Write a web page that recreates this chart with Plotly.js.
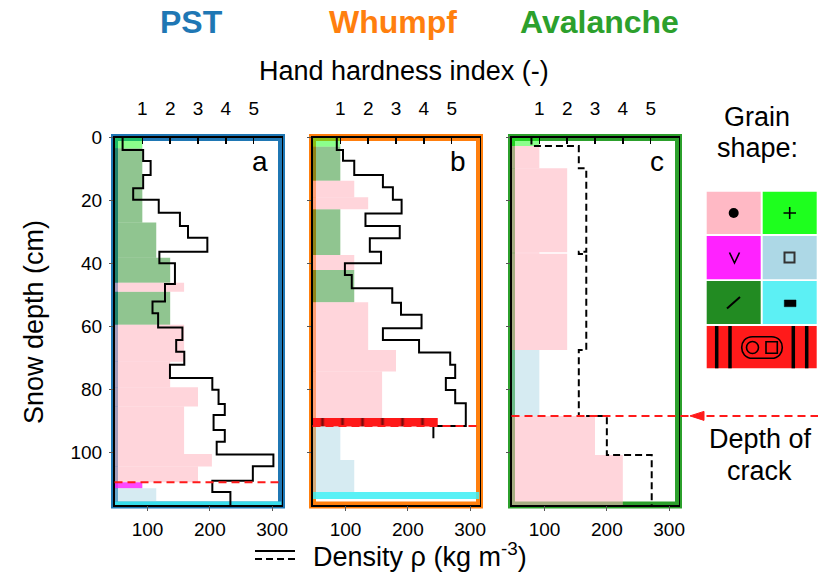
<!DOCTYPE html>
<html><head><meta charset="utf-8">
<script src="https://cdn.plot.ly/plotly-3.0.1.min.js"></script>
<style>html,body{margin:0;padding:0;background:#fff}#chart{width:818px;height:579px}</style>
</head><body><div id="chart"></div>
<script>
// ---------- DATA ----------
const panelNames = ['PST', 'Whumpf', 'Avalanche'];
const panelLetters = ['a', 'b', 'c'];
const hardTicks = [1, 2, 3, 4, 5];
const densTicks = [100, 200, 300];
const depthTicks = [0, 20, 40, 60, 80, 100];

// grain layers: top depth, bottom depth (cm), hand hardness index, grain shape
const aTop   = [0, 3.4, 27.0, 38.2, 46.1, 49.0, 59.5, 71.2, 79.3, 85.4, 100.5, 104.5, 109.5, 111.4, 115.6];
const aBot   = [3.4, 27.0, 38.2, 46.1, 49.0, 59.5, 71.2, 79.3, 85.4, 100.5, 104.5, 109.5, 111.4, 115.6, 116.7];
const aHard  = [1, 1, 1.5, 2, 2.5, 2, 2.5, 2, 3, 2.5, 3.5, 3, 1, 1.5, 6];
const aGrain = ['PP','DF','DF','DF','RG','DF','RG','RG','RG','RG','RG','RG','DH','FC','IF'];

const bTop   = [0, 2.9, 13.7, 19.0, 22.8, 37.3, 42.1, 52.3, 67.5, 74.3, 89.1, 91.8, 102.4, 112.6];
const bBot   = [2.9, 13.7, 19.0, 22.8, 37.3, 42.1, 52.3, 67.5, 74.3, 89.1, 91.8, 102.4, 112.6, 114.8];
const bHard  = [1, 1, 1.5, 2, 1, 1.5, 1.5, 2, 3, 2.5, 4.5, 1, 1.5, 6];
const bGrain = ['PP','DF','RG','RG','DF','RG','DF','RG','RG','RG','MFcr','FC','FC','IF'];

const cTop   = [0, 2.7, 9.8, 36.4, 36.9, 67.5, 88.4, 100.8];
const cBot   = [2.7, 9.8, 36.4, 36.9, 67.5, 88.4, 100.8, 116.7];
const cHard  = [1, 1, 2, 1, 2, 1, 3, 4];
const cGrain = ['PP','RG','RG','RG','RG','FC','RG','RG'];

// density profiles: layer boundaries (cm) and density (kg m-3)
const aDz  = [0,4.0,7.5,11.9,16.1,19.8,23.9,28.1,31.8,36.3,39.9,46.5,52.1,55.8,60.3,64.3,68.0,72.2,76.4,80.1,84.6,88.1,92.9,96.6,100.7,104.4,109.0,112.6,116.7];
const aRho = [60,93,105,93,77,118,152,165,196,119,144,128,108,117,156,146,159,136,204,214,224,206,224,211,302,269,204,233];
const bDz  = [0,4.0,7.4,11.9,15.8,19.8,24.1,28.1,32.0,36.3,39.9,43.7,47.9,52.5,56.3,60.6,64.3,68.3,72.2,76.4,80.2,84.4,91.6,95.5];
const bRho = [86,96,114,160,176,190,132,187,139,157,99,110,175,189,222,160,218,268,276,261,276,293,241];
const cDz  = [0,2.7,9.8,36.3,37.0,67.5,88.4,100.8,116.7];
const cRho = [79,155,167,155,167,155,200,272];

// depth of crack (cm)
const crackDepth = [109.5, 91.6, 88.4];

// grain shape legend
const legendGrains = ['RG','PP','DH','FC','DF','IF'];

// ---------- STYLE ----------
const W = 818, H = 579;
const FONT = 'Liberation Sans, Arial, sans-serif';
const panelColors = ['#1f77b4', '#ff7f0e', '#2ca02c'];
const grainFill = {
  PP: 'rgba(26,255,26,0.5)', RG: 'rgba(255,182,193,0.58)', DH: 'rgba(255,40,255,0.85)',
  FC: 'rgba(173,216,230,0.5)', DF: 'rgba(34,139,34,0.5)', IF: 'rgba(60,238,245,0.85)', MFcr: 'rgba(255,25,25,1)'
};
const legendFill = {PP:'#1eff1e', RG:'#ffb9c5', DH:'#ff22ff', FC:'#add8e6', DF:'#228b22', IF:'#5cf0f4', MFcr:'#ff1a1a'};
const panelPx = [[114.5, 281.5], [312.5, 479.5], [511.5, 678.5]];
const yTopPx = 137.5, yBotPx = 505;
const depthRange = [116.7, 0];
const hardRange = [0, 6];
const densRange = [47, 315];
const px = x => x / W;
const py = y => 1 - y / H;

const layers = [
  [aTop, aBot, aHard, aGrain],
  [bTop, bBot, bHard, bGrain],
  [cTop, cBot, cHard, cGrain]
];
const profiles = [[aDz, aRho], [bDz, bRho], [cDz, cRho]];

const traces = [];
const layout = {
  width: W, height: H, margin: {l: 0, r: 0, t: 0, b: 0},
  paper_bgcolor: '#fff', plot_bgcolor: 'rgba(0,0,0,0)',
  showlegend: false, barmode: 'overlay', hovermode: false,
  font: {family: FONT, color: '#000', size: 19},
  shapes: [], annotations: []
};

for (let p = 0; p < 3; p++) {
  const hx = p === 0 ? 'x' : 'x' + (p + 1);
  const dx = 'x' + (p + 4);
  const yy = p === 0 ? 'y' : 'y' + (p + 1);
  const [top, bot, hard, grain] = layers[p];
  // bars per grain type
  const types = [...new Set(grain)];
  types.forEach(g => {
    const idx = grain.map((v, i) => v === g ? i : -1).filter(i => i >= 0);
    const tr = {
      type: 'bar', orientation: 'h', xaxis: hx, yaxis: yy, hoverinfo: 'skip',
      x: idx.map(i => hard[i]),
      y: idx.map(i => (top[i] + bot[i]) / 2),
      width: idx.map(i => bot[i] - top[i]),
      marker: {color: grainFill[g], line: {width: 0}}
    };
    if (g === 'MFcr') {
      tr.marker.pattern = {shape: '|', fgcolor: '#000', bgcolor: grainFill[g], size: 20, solidity: 0.14, fillmode: 'overlay'};
    }
    traces.push(tr);
  });
  // density step line
  const [dz, rho] = profiles[p];
  const lx = [], ly = [];
  for (let i = 0; i < rho.length; i++) { lx.push(rho[i], rho[i]); ly.push(dz[i], dz[i + 1]); }
  traces.push({
    type: 'scatter', mode: 'lines', xaxis: dx, yaxis: yy, hoverinfo: 'skip',
    x: lx, y: ly,
    line: {color: '#000', width: 2, dash: p === 2 ? '7px,4px' : 'solid'}
  });

  const dom = [px(panelPx[p][0]), px(panelPx[p][1])];
  const ydom = [py(yBotPx), py(yTopPx)];
  layout[p === 0 ? 'xaxis' : 'xaxis' + (p + 1)] = {
    domain: dom, range: hardRange, side: 'top', anchor: yy,
    tickmode: 'array', tickvals: hardTicks, ticktext: hardTicks.map(String),
    ticks: 'inside', ticklen: 6, tickwidth: 1.5, tickcolor: '#000',
    showline: true, mirror: true, linecolor: '#000', linewidth: 1.5,
    showgrid: false, zeroline: false, fixedrange: true,
    tickfont: {size: 19}, ticklabelstandoff: 13
  };
  layout['xaxis' + (p + 4)] = {
    domain: dom, range: densRange, side: 'bottom', anchor: yy, overlaying: hx,
    tickmode: 'array', tickvals: densTicks, ticktext: densTicks.map(String),
    ticks: 'outside', ticklen: 5, tickwidth: 1.2, tickcolor: '#555',
    showline: false, showgrid: false, zeroline: false, fixedrange: true,
    tickfont: {size: 19}, ticklabelstandoff: 2
  };
  layout[p === 0 ? 'yaxis' : 'yaxis' + (p + 1)] = {
    domain: ydom, range: depthRange, anchor: hx,
    tickmode: 'array', tickvals: depthTicks, ticktext: depthTicks.map(String),
    ticks: 'outside', ticklen: 4, tickwidth: 1.2, tickcolor: '#555',
    showticklabels: p === 0,
    showline: true, mirror: true, linecolor: '#000', linewidth: 1.5,
    showgrid: false, zeroline: false, fixedrange: true,
    tickfont: {size: 19}, ticklabelstandoff: 3
  };

  // coloured frame
  layout.shapes.push({type: 'rect', xref: 'paper', yref: 'paper', layer: 'below',
    x0: dom[0], x1: dom[1], y0: ydom[0], y1: ydom[1],
    line: {color: panelColors[p], width: 7}, fillcolor: 'rgba(0,0,0,0)'});

  // crack line
  if (p < 2) {
    layout.shapes.push({type: 'line', xref: hx + ' domain', yref: yy, x0: 0, x1: 1,
      y0: crackDepth[p], y1: crackDepth[p], line: {color: '#ff1a1a', width: 2, dash: '8px,5px'}});
  } else {
    layout.shapes.push({type: 'line', xref: 'paper', yref: yy, x0: dom[0], x1: 1,
      y0: crackDepth[p], y1: crackDepth[p], line: {color: '#ff1a1a', width: 2, dash: '8px,5px'}});
    // arrow head pointing left
    const d = crackDepth[p], dd = 4.5 / 3.15;
    layout.shapes.push({type: 'path', xref: 'paper', yref: yy,
      path: 'M' + px(690).toFixed(5) + ',' + d + ' L' + px(704).toFixed(5) + ',' + (d - dd) +
            ' L' + px(704).toFixed(5) + ',' + (d + dd) + ' Z',
      fillcolor: '#ff1a1a', line: {color: '#ff1a1a', width: 1}});
  }

  // panel letter
  layout.annotations.push({xref: 'paper', yref: 'paper', x: px(panelPx[p][1] - 22), y: py(161),
    text: panelLetters[p], showarrow: false, xanchor: 'center', yanchor: 'middle',
    font: {size: 28, color: '#000'}});
  // panel title
  layout.annotations.push({xref: 'paper', yref: 'paper', x: px([191, 393, 599][p]), y: py(22),
    text: '<b>' + panelNames[p] + '</b>', showarrow: false, xanchor: 'center', yanchor: 'middle',
    font: {size: 32, color: panelColors[p]}});
}

// axis titles
layout.annotations.push({xref: 'paper', yref: 'paper', x: px(404), y: py(71), text: 'Hand hardness index (-)',
  showarrow: false, xanchor: 'center', yanchor: 'middle', font: {size: 27}});
layout.annotations.push({xref: 'paper', yref: 'paper', x: px(34), y: py(322), text: 'Snow depth (cm)',
  textangle: -90, showarrow: false, xanchor: 'center', yanchor: 'middle', font: {size: 27}});
layout.annotations.push({xref: 'paper', yref: 'paper', x: px(311), y: py(555), text: 'Density ρ (kg m<sup>-3</sup>)',
  showarrow: false, xanchor: 'left', yanchor: 'middle', font: {size: 27}});
layout.shapes.push({type: 'line', xref: 'paper', yref: 'paper', x0: px(255), x1: px(295), y0: py(551), y1: py(551),
  line: {color: '#000', width: 2}});
layout.shapes.push({type: 'line', xref: 'paper', yref: 'paper', x0: px(255), x1: px(295), y0: py(559), y1: py(559),
  line: {color: '#000', width: 2, dash: '7px,4px'}});

// right side legend
layout.annotations.push({xref: 'paper', yref: 'paper', x: px(757), y: py(117), text: 'Grain',
  showarrow: false, xanchor: 'center', yanchor: 'middle', font: {size: 27}});
layout.annotations.push({xref: 'paper', yref: 'paper', x: px(757), y: py(148), text: 'shape:',
  showarrow: false, xanchor: 'center', yanchor: 'middle', font: {size: 27}});
layout.annotations.push({xref: 'paper', yref: 'paper', x: px(760), y: py(439), text: 'Depth of',
  showarrow: false, xanchor: 'center', yanchor: 'middle', font: {size: 27}});
layout.annotations.push({xref: 'paper', yref: 'paper', x: px(759), y: py(471), text: 'crack',
  showarrow: false, xanchor: 'center', yanchor: 'middle', font: {size: 27}});

const cols = [[706.7, 760.7], [762.7, 816.7]];
const rows = [[191.7, 234], [236, 279.3], [281, 324]];
legendGrains.forEach((g, i) => {
  const c = cols[i % 2], r = rows[Math.floor(i / 2)];
  layout.shapes.push({type: 'rect', xref: 'paper', yref: 'paper', x0: px(c[0]), x1: px(c[1]), y0: py(r[1]), y1: py(r[0]),
    fillcolor: legendFill[g], line: {width: 0}});
});
// red MFcr cell
layout.shapes.push({type: 'rect', xref: 'paper', yref: 'paper', x0: px(706.7), x1: px(816.7), y0: py(368.3), y1: py(326),
  fillcolor: legendFill.MFcr, line: {width: 0}});

function addPath(d, color, width, fill) {
  layout.shapes.push({type: 'path', xref: 'paper', yref: 'paper', path: d,
    line: {color: color, width: width}, fillcolor: fill || 'rgba(0,0,0,0)'});
}
const P = (x, y) => px(x).toFixed(5) + ',' + py(y).toFixed(5);
// RG dot
layout.shapes.push({type: 'circle', xref: 'paper', yref: 'paper', x0: px(728.7), x1: px(738.7), y0: py(218), y1: py(208),
  fillcolor: '#000', line: {width: 0}});
// PP plus
addPath('M' + P(783.5, 213) + ' L' + P(796, 213) + ' M' + P(789.7, 207) + ' L' + P(789.7, 219), '#000', 1.6);
// DH v
addPath('M' + P(729.5, 252.5) + ' L' + P(734.5, 263) + ' L' + P(739.5, 252.5), '#000', 1.6);
// FC square
addPath('M' + P(784.5, 252.5) + ' L' + P(794.5, 252.5) + ' L' + P(794.5, 262.5) + ' L' + P(784.5, 262.5) + ' Z', '#333', 2);
// DF slash
addPath('M' + P(727, 308.5) + ' L' + P(740, 297), '#000', 2);
// IF bar
addPath('M' + P(784.3, 300) + ' L' + P(796, 300) + ' L' + P(796, 306.7) + ' L' + P(784.3, 306.7) + ' Z', '#000', 0.5, '#000');
// MFcr vertical lines
[716.7, 730, 793.3, 806.7].forEach(x => addPath('M' + P(x, 326) + ' L' + P(x, 368.3), '#000', 3.5));
// MFcr symbol: stadium with circle and square
const sL = 752.5, sR = 771.5, sT = 336.7, sB = 358.3, rr = 10.8, k = 1.333 * rr;
addPath('M' + P(sL, sT) + ' L' + P(sR, sT) + ' C' + P(sR + k, sT) + ' ' + P(sR + k, sB) + ' ' + P(sR, sB) +
  ' L' + P(sL, sB) + ' C' + P(sL - k, sB) + ' ' + P(sL - k, sT) + ' ' + P(sL, sT) + ' Z', '#000', 1.6);
layout.shapes.push({type: 'circle', xref: 'paper', yref: 'paper', x0: px(746.5), x1: px(758.5), y0: py(353.5), y1: py(341.5),
  line: {color: '#000', width: 1.6}, fillcolor: 'rgba(0,0,0,0)'});
addPath('M' + P(766, 341.7) + ' L' + P(777.3, 341.7) + ' L' + P(777.3, 353.3) + ' L' + P(766, 353.3) + ' Z', '#000', 1.6);

Plotly.newPlot('chart', traces, layout, {staticPlot: true, displayModeBar: false});
</script>
</body></html>
